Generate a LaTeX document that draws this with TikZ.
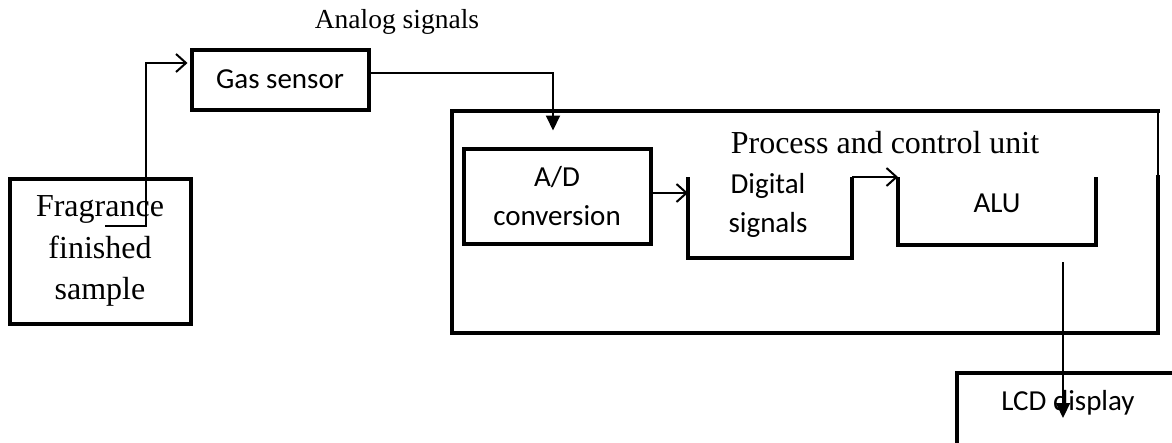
\documentclass[tikz,border=0pt]{standalone}
\usepackage{fontspec}
\setmainfont{Liberation Serif}
\newfontfamily\sansbox{Carlito}
\usetikzlibrary{arrows.meta}

\begin{document}
\begin{tikzpicture}[x=1pt,y=-1pt,
  box/.style={draw, line width=4pt, inner sep=0pt, align=center},
  frame/.style={line width=4pt},
  wire/.style={line width=2pt},
  sanstext/.style={font=\sansbox\fontsize{29}{39}\selectfont, align=center},
  seriftext/.style={font=\fontsize{32}{41.5}\selectfont, align=center},
  openarrow/.style={wire, -{Straight Barb[length=10pt, width=18pt, line width=2pt]}},
  fillarrow/.style={wire, -{Triangle[length=15pt, width=14pt]}}]
\useasboundingbox (0,0) rectangle (1172,442);
% blocks
\node[box, seriftext, minimum width=181pt, minimum height=145pt] (frag) at (100,251) {Fragrance\\finished\\sample};
\node[box, sanstext, minimum width=177pt, minimum height=60pt] (gas) at (280,79.5) {Gas sensor};
\node[font=\fontsize{27.5}{30}\selectfont] (analog) at (397,22) {Analog signals};
\node[box, sanstext, minimum width=187pt, minimum height=95pt] (ad) at (557,196) {A/D\\conversion};
\node[seriftext] (pcu) at (885,143) {Process and control unit};
\node[sanstext] (dig) at (768,205) {Digital\\signals};
\node[sanstext] (alu) at (997,203) {ALU};
\node[sanstext] (lcd) at (1068,403) {LCD display};
% unit frame
\draw[frame] (1158,175) -- (1158,333) -- (452,333) -- (452,111) -- (1160,111);
\draw[wire] (1158,111) -- (1158,175);
% open blocks
\coordinate (dignw) at (688,177);
\coordinate (digne) at (852,177);
\coordinate (alunw) at (898,177);
\coordinate (alune) at (1096,177);
\draw[frame] (dignw) -- (688,258) -- (852,258) -- (digne);
\draw[frame] (alunw) -- (898,245) -- (1096,245) -- (alune);
\draw[frame] (1180,373) -- (957,373) -- (957,450);
% connectors
\coordinate (fragout) at (105,226);
\coordinate (aluout) at (1063,262);
\coordinate (lcdin) at (1063,418);
\draw[openarrow] (fragout) -- ++(41,0) |- ([yshift=16.5pt,xshift=-2pt]gas.west);
\draw[fillarrow, shorten >=16pt] ([yshift=6.5pt]gas.east) -| ([xshift=-4pt]ad.north);
\draw[openarrow] ([yshift=3pt]ad.east) -- ([yshift=3pt]ad.east -| dignw);
\draw[openarrow] (digne) -- (alunw);
\draw[fillarrow] (aluout) -- (lcdin);
\end{tikzpicture}
\end{document}
